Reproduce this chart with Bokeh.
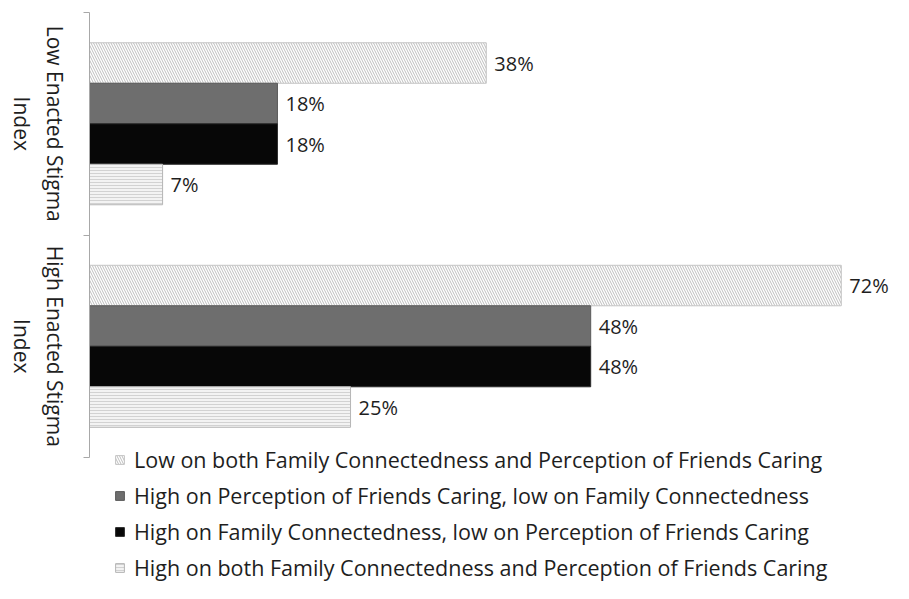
import math
from bokeh.plotting import figure
from bokeh.layouts import row
from bokeh.models import ColumnDataSource, Range1d, FixedTicker, Legend, LegendItem
from bokeh.core.properties import value
from bokeh.embed import file_html
from bokeh.resources import INLINE

# ---- data ----
groups = ["Low Enacted Stigma\nIndex", "High Enacted Stigma\nIndex"]
series_names = [
    "Low on both Family Connectedness and Perception of Friends Caring",
    "High on Perception of Friends Caring, low on Family Connectedness",
    "High on Family Connectedness, low on Perception of Friends Caring",
    "High on both Family Connectedness and Perception of Friends Caring",
]
low_values = [38, 18, 18, 7]
high_values = [72, 48, 48, 25]
low_labels = ["38%", "18%", "18%", "7%"]
high_labels = ["72%", "48%", "48%", "25%"]

# ---- styles ----
styles = [
    dict(fill_color="#ffffff", hatch_pattern="\\", hatch_color="#bdbdbd", hatch_scale=5, hatch_weight=1, line_color="#c4c4c4"),
    dict(fill_color="#6e6e6e", line_color="#5a5a5a"),
    dict(fill_color="#070707", line_color="#2a2a2a"),
    dict(fill_color="#f3f3f3", hatch_pattern="-", hatch_color="#d2d2d2", hatch_scale=3, hatch_weight=1, line_color="#b5b5b5"),
]
FONT = "Open Sans"
TXT = "#1e1e1e"
AXC = "#a8a8a8"

n_groups = len(groups)
group_pos = [n_groups - 1 - i for i in range(n_groups)]  # Low at top
bh = 0.182
yr = Range1d(-1.066, 1.5)
LW = 80

# ---- left strip with the group labels ----
left = figure(width=LW, height=583, output_backend="svg", toolbar_location=None,
              x_range=Range1d(0, LW), y_range=yr, x_axis_location=None, y_axis_location=None,
              min_border_left=0, min_border_right=0, min_border_top=12, min_border_bottom=0)
left.xgrid.visible = False
left.ygrid.visible = False
left.outline_line_color = None
left.text(x=[38] * n_groups, y=group_pos, text=groups, angle=-math.pi / 2,
          text_align="center", text_baseline="middle", text_line_height=1.2,
          text_font=value(FONT), text_font_size="21px", text_color=TXT)

# ---- main chart ----
p = figure(width=893 - LW, height=583, output_backend="svg", toolbar_location=None,
           x_range=Range1d(0, 77), y_range=yr,
           x_axis_location=None, min_border_left=0, min_border_right=0,
           min_border_top=12, min_border_bottom=0)
p.xgrid.visible = False
p.ygrid.visible = False
p.outline_line_color = None
p.background_fill_color = "white"

items = []
for j, name in enumerate(series_names):
    off = (1.5 - j) * bh
    src = ColumnDataSource(dict(
        y=[group_pos[0] + off, group_pos[1] + off],
        right=[low_values[j], high_values[j]],
        label=[low_labels[j], high_labels[j]],
    ))
    r = p.hbar(y="y", left=0, right="right", height=bh, source=src, line_width=1, **styles[j])
    p.text(x="right", y="y", text="label", source=src, x_offset=8, text_baseline="middle",
           text_font=value(FONT), text_font_size="20px", text_color=TXT)
    items.append(LegendItem(label=name, renderers=[r]))

legend = Legend(items=items, location=(25, 1), orientation="vertical", padding=0, margin=0,
                spacing=7, glyph_width=11, glyph_height=11, label_standoff=9,
                label_height=20, border_line_color=None, background_fill_alpha=0,
                label_text_font=FONT, label_text_font_size="21.5px", label_text_color=TXT)
p.add_layout(legend)

ax = p.yaxis[0]
ax.ticker = FixedTicker(ticks=[-0.5, 0.5, 1.5])
ax.major_label_overrides = {-0.5: " ", 0.5: " ", 1.5: " "}
ax.major_label_text_font_size = "1px"
ax.major_label_standoff = 0
ax.bounds = (-0.5, 1.5)
ax.major_tick_out = 6
ax.major_tick_in = 0
ax.axis_line_color = AXC
ax.major_tick_line_color = AXC

open("out.html", "w").write(file_html(row(left, p), INLINE))
